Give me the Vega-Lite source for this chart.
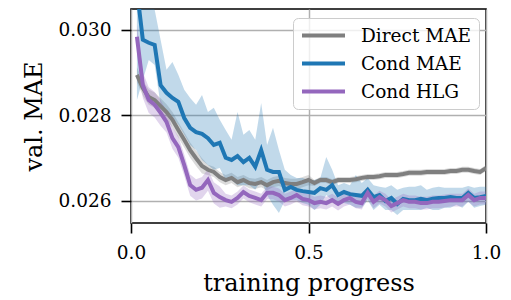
{
  "$schema": "https://vega.github.io/schema/vega-lite/v6.json",
  "width": 355,
  "height": 214,
  "autosize": "none",
  "padding": {"left": 131, "top": 9, "right": 25, "bottom": 77},
  "background": "white",
  "config": {
    "font": "DejaVu Serif",
    "view": {"stroke": "black", "strokeWidth": 1.6},
    "axis": {
      "domain": false,
      "grid": true,
      "gridColor": "#b0b0b0",
      "gridWidth": 1.5,
      "tickColor": "black",
      "tickSize": 10,
      "tickWidth": 1.6,
      "labelFont": "DejaVu Serif",
      "labelFontSize": 18.5,
      "labelColor": "black",
      "labelPadding": 10,
      "labelFlush": false,
      "titleFont": "DejaVu Serif",
      "titleFontSize": 24,
      "titleFontWeight": "normal",
      "titleColor": "black"
    }
  },
  "data": {"values": [
    {"x":0.0167,"s":"Direct MAE","y":0.02895,"lo":0.02877,"hi":0.02913},
    {"x":0.0333,"s":"Direct MAE","y":0.02864,"lo":0.02846,"hi":0.02882},
    {"x":0.05,"s":"Direct MAE","y":0.02843,"lo":0.02825,"hi":0.02861},
    {"x":0.0667,"s":"Direct MAE","y":0.02836,"lo":0.02818,"hi":0.02854},
    {"x":0.0833,"s":"Direct MAE","y":0.02822,"lo":0.02804,"hi":0.0284},
    {"x":0.1,"s":"Direct MAE","y":0.02808,"lo":0.0279,"hi":0.02826},
    {"x":0.1167,"s":"Direct MAE","y":0.0279,"lo":0.02772,"hi":0.02808},
    {"x":0.1333,"s":"Direct MAE","y":0.02766,"lo":0.02748,"hi":0.02784},
    {"x":0.15,"s":"Direct MAE","y":0.02743,"lo":0.02725,"hi":0.02761},
    {"x":0.1667,"s":"Direct MAE","y":0.02719,"lo":0.02701,"hi":0.02737},
    {"x":0.1833,"s":"Direct MAE","y":0.027,"lo":0.02682,"hi":0.02718},
    {"x":0.2,"s":"Direct MAE","y":0.02682,"lo":0.02664,"hi":0.027},
    {"x":0.2167,"s":"Direct MAE","y":0.02673,"lo":0.02661,"hi":0.02685},
    {"x":0.2333,"s":"Direct MAE","y":0.02668,"lo":0.02656,"hi":0.0268},
    {"x":0.25,"s":"Direct MAE","y":0.02656,"lo":0.02644,"hi":0.02668},
    {"x":0.2667,"s":"Direct MAE","y":0.02649,"lo":0.02637,"hi":0.02661},
    {"x":0.2833,"s":"Direct MAE","y":0.02654,"lo":0.02642,"hi":0.02666},
    {"x":0.3,"s":"Direct MAE","y":0.02644,"lo":0.02632,"hi":0.02656},
    {"x":0.3167,"s":"Direct MAE","y":0.02649,"lo":0.02637,"hi":0.02661},
    {"x":0.3333,"s":"Direct MAE","y":0.02642,"lo":0.0263,"hi":0.02654},
    {"x":0.35,"s":"Direct MAE","y":0.0264,"lo":0.02628,"hi":0.02652},
    {"x":0.3667,"s":"Direct MAE","y":0.02644,"lo":0.02632,"hi":0.02656},
    {"x":0.3833,"s":"Direct MAE","y":0.02637,"lo":0.02625,"hi":0.02649},
    {"x":0.4,"s":"Direct MAE","y":0.02644,"lo":0.02632,"hi":0.02656},
    {"x":0.4167,"s":"Direct MAE","y":0.02647,"lo":0.02635,"hi":0.02659},
    {"x":0.4333,"s":"Direct MAE","y":0.02642,"lo":0.0263,"hi":0.02654},
    {"x":0.45,"s":"Direct MAE","y":0.0264,"lo":0.02628,"hi":0.02652},
    {"x":0.4667,"s":"Direct MAE","y":0.0264,"lo":0.02628,"hi":0.02652},
    {"x":0.4833,"s":"Direct MAE","y":0.02644,"lo":0.02632,"hi":0.02656},
    {"x":0.5,"s":"Direct MAE","y":0.02649,"lo":0.02637,"hi":0.02661},
    {"x":0.5167,"s":"Direct MAE","y":0.02642,"lo":0.02635,"hi":0.02649},
    {"x":0.5333,"s":"Direct MAE","y":0.02649,"lo":0.02642,"hi":0.02656},
    {"x":0.55,"s":"Direct MAE","y":0.02649,"lo":0.02642,"hi":0.02656},
    {"x":0.5667,"s":"Direct MAE","y":0.02644,"lo":0.02637,"hi":0.02651},
    {"x":0.5833,"s":"Direct MAE","y":0.02649,"lo":0.02642,"hi":0.02656},
    {"x":0.6,"s":"Direct MAE","y":0.02649,"lo":0.02642,"hi":0.02656},
    {"x":0.6167,"s":"Direct MAE","y":0.02649,"lo":0.02642,"hi":0.02656},
    {"x":0.6333,"s":"Direct MAE","y":0.02651,"lo":0.02644,"hi":0.02658},
    {"x":0.65,"s":"Direct MAE","y":0.02654,"lo":0.02647,"hi":0.02661},
    {"x":0.6667,"s":"Direct MAE","y":0.02656,"lo":0.02649,"hi":0.02663},
    {"x":0.6833,"s":"Direct MAE","y":0.02656,"lo":0.02649,"hi":0.02663},
    {"x":0.7,"s":"Direct MAE","y":0.02658,"lo":0.02651,"hi":0.02665},
    {"x":0.7167,"s":"Direct MAE","y":0.02661,"lo":0.02654,"hi":0.02668},
    {"x":0.7333,"s":"Direct MAE","y":0.02661,"lo":0.02654,"hi":0.02668},
    {"x":0.75,"s":"Direct MAE","y":0.02661,"lo":0.02654,"hi":0.02668},
    {"x":0.7667,"s":"Direct MAE","y":0.02663,"lo":0.02656,"hi":0.0267},
    {"x":0.7833,"s":"Direct MAE","y":0.02666,"lo":0.02659,"hi":0.02673},
    {"x":0.8,"s":"Direct MAE","y":0.02666,"lo":0.02659,"hi":0.02673},
    {"x":0.8167,"s":"Direct MAE","y":0.02666,"lo":0.02659,"hi":0.02673},
    {"x":0.8333,"s":"Direct MAE","y":0.02668,"lo":0.02661,"hi":0.02675},
    {"x":0.85,"s":"Direct MAE","y":0.02668,"lo":0.02661,"hi":0.02675},
    {"x":0.8667,"s":"Direct MAE","y":0.02668,"lo":0.02661,"hi":0.02675},
    {"x":0.8833,"s":"Direct MAE","y":0.02668,"lo":0.02661,"hi":0.02675},
    {"x":0.9,"s":"Direct MAE","y":0.0267,"lo":0.02663,"hi":0.02677},
    {"x":0.9167,"s":"Direct MAE","y":0.0267,"lo":0.02663,"hi":0.02677},
    {"x":0.9333,"s":"Direct MAE","y":0.02673,"lo":0.02666,"hi":0.0268},
    {"x":0.95,"s":"Direct MAE","y":0.02673,"lo":0.02666,"hi":0.0268},
    {"x":0.9667,"s":"Direct MAE","y":0.0267,"lo":0.02663,"hi":0.02677},
    {"x":0.9833,"s":"Direct MAE","y":0.02668,"lo":0.02661,"hi":0.02675},
    {"x":1.0,"s":"Direct MAE","y":0.02677,"lo":0.0267,"hi":0.02684},

    {"x":0.0167,"s":"Cond MAE","y":0.03094,"lo":0.02836,"hi":0.03187},
    {"x":0.0333,"s":"Cond MAE","y":0.02977,"lo":0.02883,"hi":0.0314},
    {"x":0.05,"s":"Cond MAE","y":0.0297,"lo":0.0293,"hi":0.0307},
    {"x":0.0667,"s":"Cond MAE","y":0.02965,"lo":0.02918,"hi":0.03047},
    {"x":0.0833,"s":"Cond MAE","y":0.02871,"lo":0.02825,"hi":0.02977},
    {"x":0.1,"s":"Cond MAE","y":0.02853,"lo":0.02813,"hi":0.02907},
    {"x":0.1167,"s":"Cond MAE","y":0.02841,"lo":0.02794,"hi":0.02925},
    {"x":0.1333,"s":"Cond MAE","y":0.02832,"lo":0.02778,"hi":0.02895},
    {"x":0.15,"s":"Cond MAE","y":0.02794,"lo":0.02755,"hi":0.0286},
    {"x":0.1667,"s":"Cond MAE","y":0.02771,"lo":0.02731,"hi":0.02841},
    {"x":0.1833,"s":"Cond MAE","y":0.02761,"lo":0.02719,"hi":0.02825},
    {"x":0.2,"s":"Cond MAE","y":0.02757,"lo":0.02696,"hi":0.02848},
    {"x":0.2167,"s":"Cond MAE","y":0.02747,"lo":0.02684,"hi":0.02808},
    {"x":0.2333,"s":"Cond MAE","y":0.02731,"lo":0.02673,"hi":0.02818},
    {"x":0.25,"s":"Cond MAE","y":0.02736,"lo":0.02677,"hi":0.0279},
    {"x":0.2667,"s":"Cond MAE","y":0.02701,"lo":0.02649,"hi":0.02766},
    {"x":0.2833,"s":"Cond MAE","y":0.02696,"lo":0.02649,"hi":0.02743},
    {"x":0.3,"s":"Cond MAE","y":0.02705,"lo":0.02637,"hi":0.02808},
    {"x":0.3167,"s":"Cond MAE","y":0.02691,"lo":0.02637,"hi":0.02755},
    {"x":0.3333,"s":"Cond MAE","y":0.02701,"lo":0.02637,"hi":0.02766},
    {"x":0.35,"s":"Cond MAE","y":0.0268,"lo":0.02626,"hi":0.02743},
    {"x":0.3667,"s":"Cond MAE","y":0.02719,"lo":0.02649,"hi":0.02829},
    {"x":0.3833,"s":"Cond MAE","y":0.02673,"lo":0.02614,"hi":0.02731},
    {"x":0.4,"s":"Cond MAE","y":0.02668,"lo":0.02591,"hi":0.02771},
    {"x":0.4167,"s":"Cond MAE","y":0.02668,"lo":0.02572,"hi":0.02719},
    {"x":0.4333,"s":"Cond MAE","y":0.02626,"lo":0.02602,"hi":0.02673},
    {"x":0.45,"s":"Cond MAE","y":0.02633,"lo":0.02602,"hi":0.02661},
    {"x":0.4667,"s":"Cond MAE","y":0.02626,"lo":0.02602,"hi":0.02654},
    {"x":0.4833,"s":"Cond MAE","y":0.02623,"lo":0.02595,"hi":0.02654},
    {"x":0.5,"s":"Cond MAE","y":0.02621,"lo":0.02591,"hi":0.02649},
    {"x":0.5167,"s":"Cond MAE","y":0.02619,"lo":0.02579,"hi":0.02649},
    {"x":0.5333,"s":"Cond MAE","y":0.0263,"lo":0.02591,"hi":0.02654},
    {"x":0.55,"s":"Cond MAE","y":0.02626,"lo":0.02614,"hi":0.02703},
    {"x":0.5667,"s":"Cond MAE","y":0.02637,"lo":0.02602,"hi":0.02673},
    {"x":0.5833,"s":"Cond MAE","y":0.02614,"lo":0.02591,"hi":0.02637},
    {"x":0.6,"s":"Cond MAE","y":0.02621,"lo":0.02595,"hi":0.02642},
    {"x":0.6167,"s":"Cond MAE","y":0.02616,"lo":0.02591,"hi":0.02637},
    {"x":0.6333,"s":"Cond MAE","y":0.02614,"lo":0.02584,"hi":0.02661},
    {"x":0.65,"s":"Cond MAE","y":0.02612,"lo":0.02584,"hi":0.02642},
    {"x":0.6667,"s":"Cond MAE","y":0.02626,"lo":0.02602,"hi":0.02654},
    {"x":0.6833,"s":"Cond MAE","y":0.02609,"lo":0.02579,"hi":0.02637},
    {"x":0.7,"s":"Cond MAE","y":0.02614,"lo":0.02591,"hi":0.02633},
    {"x":0.7167,"s":"Cond MAE","y":0.026,"lo":0.02579,"hi":0.02631},
    {"x":0.7333,"s":"Cond MAE","y":0.02607,"lo":0.02579,"hi":0.02637},
    {"x":0.75,"s":"Cond MAE","y":0.02593,"lo":0.02567,"hi":0.02626},
    {"x":0.7667,"s":"Cond MAE","y":0.02605,"lo":0.02579,"hi":0.02631},
    {"x":0.7833,"s":"Cond MAE","y":0.02602,"lo":0.02579,"hi":0.02633},
    {"x":0.8,"s":"Cond MAE","y":0.02602,"lo":0.02579,"hi":0.02633},
    {"x":0.8167,"s":"Cond MAE","y":0.02605,"lo":0.02579,"hi":0.02637},
    {"x":0.8333,"s":"Cond MAE","y":0.02602,"lo":0.02584,"hi":0.02626},
    {"x":0.85,"s":"Cond MAE","y":0.02605,"lo":0.02579,"hi":0.02631},
    {"x":0.8667,"s":"Cond MAE","y":0.02607,"lo":0.02579,"hi":0.02633},
    {"x":0.8833,"s":"Cond MAE","y":0.02607,"lo":0.02584,"hi":0.02631},
    {"x":0.9,"s":"Cond MAE","y":0.02609,"lo":0.02584,"hi":0.02631},
    {"x":0.9167,"s":"Cond MAE","y":0.02607,"lo":0.02591,"hi":0.02631},
    {"x":0.9333,"s":"Cond MAE","y":0.02607,"lo":0.02584,"hi":0.02631},
    {"x":0.95,"s":"Cond MAE","y":0.02619,"lo":0.02598,"hi":0.02635},
    {"x":0.9667,"s":"Cond MAE","y":0.02607,"lo":0.02584,"hi":0.02631},
    {"x":0.9833,"s":"Cond MAE","y":0.02609,"lo":0.02588,"hi":0.02633},
    {"x":1.0,"s":"Cond MAE","y":0.02612,"lo":0.02591,"hi":0.02633},

    {"x":0.0167,"s":"Cond HLG","y":0.02984,"lo":0.02954,"hi":0.03014},
    {"x":0.0333,"s":"Cond HLG","y":0.02871,"lo":0.02841,"hi":0.02901},
    {"x":0.05,"s":"Cond HLG","y":0.02836,"lo":0.02806,"hi":0.02866},
    {"x":0.0667,"s":"Cond HLG","y":0.02825,"lo":0.02795,"hi":0.02855},
    {"x":0.0833,"s":"Cond HLG","y":0.02806,"lo":0.02776,"hi":0.02836},
    {"x":0.1,"s":"Cond HLG","y":0.02785,"lo":0.0276,"hi":0.0281},
    {"x":0.1167,"s":"Cond HLG","y":0.02747,"lo":0.02722,"hi":0.02772},
    {"x":0.1333,"s":"Cond HLG","y":0.02726,"lo":0.02701,"hi":0.02751},
    {"x":0.15,"s":"Cond HLG","y":0.02684,"lo":0.02659,"hi":0.02709},
    {"x":0.1667,"s":"Cond HLG","y":0.02637,"lo":0.02612,"hi":0.02662},
    {"x":0.1833,"s":"Cond HLG","y":0.02626,"lo":0.02601,"hi":0.02651},
    {"x":0.2,"s":"Cond HLG","y":0.02631,"lo":0.02606,"hi":0.02656},
    {"x":0.2167,"s":"Cond HLG","y":0.02649,"lo":0.02624,"hi":0.02674},
    {"x":0.2333,"s":"Cond HLG","y":0.02619,"lo":0.02594,"hi":0.02644},
    {"x":0.25,"s":"Cond HLG","y":0.02609,"lo":0.02584,"hi":0.02634},
    {"x":0.2667,"s":"Cond HLG","y":0.02602,"lo":0.02587,"hi":0.02617},
    {"x":0.2833,"s":"Cond HLG","y":0.02598,"lo":0.02583,"hi":0.02613},
    {"x":0.3,"s":"Cond HLG","y":0.02607,"lo":0.02592,"hi":0.02622},
    {"x":0.3167,"s":"Cond HLG","y":0.02621,"lo":0.02606,"hi":0.02636},
    {"x":0.3333,"s":"Cond HLG","y":0.02612,"lo":0.02597,"hi":0.02627},
    {"x":0.35,"s":"Cond HLG","y":0.02607,"lo":0.02592,"hi":0.02622},
    {"x":0.3667,"s":"Cond HLG","y":0.02602,"lo":0.02587,"hi":0.02617},
    {"x":0.3833,"s":"Cond HLG","y":0.02619,"lo":0.02604,"hi":0.02634},
    {"x":0.4,"s":"Cond HLG","y":0.02619,"lo":0.02604,"hi":0.02634},
    {"x":0.4167,"s":"Cond HLG","y":0.02614,"lo":0.02599,"hi":0.02629},
    {"x":0.4333,"s":"Cond HLG","y":0.02602,"lo":0.02587,"hi":0.02617},
    {"x":0.45,"s":"Cond HLG","y":0.02607,"lo":0.02592,"hi":0.02622},
    {"x":0.4667,"s":"Cond HLG","y":0.02614,"lo":0.02599,"hi":0.02629},
    {"x":0.4833,"s":"Cond HLG","y":0.02605,"lo":0.0259,"hi":0.0262},
    {"x":0.5,"s":"Cond HLG","y":0.02602,"lo":0.02587,"hi":0.02617},
    {"x":0.5167,"s":"Cond HLG","y":0.02595,"lo":0.0258,"hi":0.0261},
    {"x":0.5333,"s":"Cond HLG","y":0.02598,"lo":0.02583,"hi":0.02613},
    {"x":0.55,"s":"Cond HLG","y":0.02595,"lo":0.0258,"hi":0.0261},
    {"x":0.5667,"s":"Cond HLG","y":0.02602,"lo":0.02587,"hi":0.02617},
    {"x":0.5833,"s":"Cond HLG","y":0.02593,"lo":0.02578,"hi":0.02608},
    {"x":0.6,"s":"Cond HLG","y":0.02602,"lo":0.02587,"hi":0.02617},
    {"x":0.6167,"s":"Cond HLG","y":0.02607,"lo":0.02592,"hi":0.02622},
    {"x":0.6333,"s":"Cond HLG","y":0.02598,"lo":0.02583,"hi":0.02613},
    {"x":0.65,"s":"Cond HLG","y":0.02595,"lo":0.0258,"hi":0.0261},
    {"x":0.6667,"s":"Cond HLG","y":0.02619,"lo":0.02604,"hi":0.02634},
    {"x":0.6833,"s":"Cond HLG","y":0.02598,"lo":0.02583,"hi":0.02613},
    {"x":0.7,"s":"Cond HLG","y":0.02609,"lo":0.02594,"hi":0.02624},
    {"x":0.7167,"s":"Cond HLG","y":0.02602,"lo":0.02587,"hi":0.02617},
    {"x":0.7333,"s":"Cond HLG","y":0.02588,"lo":0.02573,"hi":0.02603},
    {"x":0.75,"s":"Cond HLG","y":0.02595,"lo":0.0258,"hi":0.0261},
    {"x":0.7667,"s":"Cond HLG","y":0.02602,"lo":0.02587,"hi":0.02617},
    {"x":0.7833,"s":"Cond HLG","y":0.02598,"lo":0.02583,"hi":0.02613},
    {"x":0.8,"s":"Cond HLG","y":0.02598,"lo":0.02583,"hi":0.02613},
    {"x":0.8167,"s":"Cond HLG","y":0.02595,"lo":0.0258,"hi":0.0261},
    {"x":0.8333,"s":"Cond HLG","y":0.02595,"lo":0.0258,"hi":0.0261},
    {"x":0.85,"s":"Cond HLG","y":0.02598,"lo":0.02583,"hi":0.02613},
    {"x":0.8667,"s":"Cond HLG","y":0.02598,"lo":0.02583,"hi":0.02613},
    {"x":0.8833,"s":"Cond HLG","y":0.026,"lo":0.02585,"hi":0.02615},
    {"x":0.9,"s":"Cond HLG","y":0.02602,"lo":0.02587,"hi":0.02617},
    {"x":0.9167,"s":"Cond HLG","y":0.02602,"lo":0.02587,"hi":0.02617},
    {"x":0.9333,"s":"Cond HLG","y":0.02602,"lo":0.02587,"hi":0.02617},
    {"x":0.95,"s":"Cond HLG","y":0.02614,"lo":0.02599,"hi":0.02629},
    {"x":0.9667,"s":"Cond HLG","y":0.02602,"lo":0.02587,"hi":0.02617},
    {"x":0.9833,"s":"Cond HLG","y":0.02607,"lo":0.02592,"hi":0.02622},
    {"x":1.0,"s":"Cond HLG","y":0.02607,"lo":0.02592,"hi":0.02622}
  ]},
  "encoding": {
    "x": {
      "field": "x", "type": "quantitative",
      "scale": {"domain": [0, 1], "nice": false, "zero": false},
      "axis": {"values": [0, 0.5, 1], "format": ".1f", "title": "training progress", "titlePadding": 10}
    },
    "color": {
      "field": "s", "type": "nominal",
      "scale": {"domain": ["Direct MAE", "Cond MAE", "Cond HLG"], "range": ["#7f7f7f", "#1f77b4", "#9467bd"]},
      "legend": {
        "title": null,
        "orient": "none",
        "legendX": 162,
        "legendY": 9,
        "symbolType": "stroke",
        "symbolSize": 1849,
        "symbolStrokeWidth": 4,
        "symbolOpacity": 1,
        "clipHeight": 21,
        "labelFont": "DejaVu Serif",
        "labelFontSize": 18.5,
        "labelFontWeight": "normal",
        "labelColor": "black",
        "labelOffset": 14,
        "rowPadding": 7,
        "padding": 7,
        "fillColor": "rgba(255,255,255,0.8)",
        "strokeColor": "#cccccc",
        "cornerRadius": 5
      }
    }
  },
  "layer": [
    {
      "mark": {"type": "area", "opacity": 0.28, "clip": true},
      "encoding": {
        "y": {"field": "lo", "type": "quantitative", "scale": {"domain": [0.025485, 0.03049], "nice": false, "zero": false}},
        "y2": {"field": "hi"}
      }
    },
    {
      "mark": {"type": "line", "strokeWidth": 4, "clip": true},
      "encoding": {
        "y": {
          "field": "y", "type": "quantitative",
          "scale": {"domain": [0.025485, 0.03049], "nice": false, "zero": false},
          "axis": {"values": [0.026, 0.028, 0.030], "format": ".3f", "title": "val. MAE", "titlePadding": 12}
        }
      }
    }
  ]
}
